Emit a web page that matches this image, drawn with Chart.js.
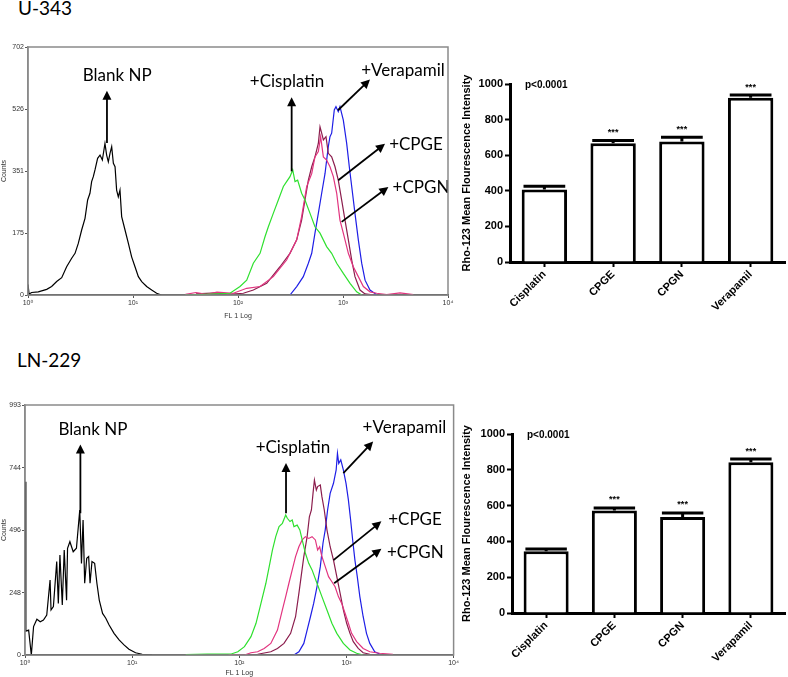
<!DOCTYPE html>
<html>
<head>
<meta charset="utf-8">
<script src="https://cdn.jsdelivr.net/npm/chart.js@4.4.0/dist/chart.umd.min.js"></script>
<style>
  body { margin: 0; background: #fff; }
  #page { position: relative; width: 788px; height: 677px; overflow: hidden; }
  .title { position: absolute; font-family: Lato, sans-serif; font-size: 19px; color: #000; }
  canvas { position: absolute; }
</style>
</head>
<body>
<div id="page">
  <div class="title" style="left:18px; top:-4px">U-343</div>
  <canvas id="histTop" width="460" height="280" style="left:0; top:40px"></canvas>
  <canvas id="barTop" width="328" height="270" style="left:460px; top:50px"></canvas>

  <div class="title" style="left:17px; top:348px">LN-229</div>
  <canvas id="histBottom" width="460" height="287" style="left:0; top:390px"></canvas>
  <canvas id="barBottom" width="328" height="277" style="left:460px; top:400px"></canvas>
</div>

<script>
// histogram curves: [FL1 in decades (log10), counts]
const u343Blank = [[0,30],[0.01,3],[0.035,7],[0.098,9],[0.178,16],[0.225,24],[0.273,38],[0.321,49],[0.368,80],[0.416,104],[0.448,118],[0.479,146],[0.511,184],[0.543,217],[0.568,269],[0.59,288],[0.606,321],[0.622,335],[0.638,354],[0.663,387],[0.686,396],[0.708,382],[0.733,429],[0.749,396],[0.765,377],[0.781,401],[0.797,420],[0.813,373],[0.829,363],[0.844,297],[0.86,278],[0.876,297],[0.892,222],[0.924,184],[0.956,146],[0.987,108],[1.019,80],[1.051,52],[1.083,38],[1.13,24],[1.178,14],[1.225,5],[1.27,0]];
const u343Cis = [[1.5,0],[1.924,5],[2.019,24],[2.083,42],[2.146,90],[2.21,118],[2.257,165],[2.289,193],[2.336,231],[2.384,269],[2.432,307],[2.463,321],[2.495,335],[2.521,354],[2.543,321],[2.568,325],[2.606,288],[2.638,269],[2.686,231],[2.733,193],[2.781,175],[2.844,137],[2.892,118],[2.94,90],[3.003,61],[3.067,33],[3.13,9],[3.178,0]];
const u343Cpge = [[1.6,3],[1.8,6],[1.9,2],[2.051,5],[2.146,14],[2.273,33],[2.4,80],[2.495,118],[2.559,156],[2.606,212],[2.638,269],[2.67,325],[2.702,363],[2.733,391],[2.765,429],[2.781,476],[2.797,458],[2.813,439],[2.838,448],[2.86,401],[2.892,391],[2.924,363],[2.955,325],[2.987,269],[3.019,212],[3.051,156],[3.083,99],[3.114,52],[3.162,14],[3.21,3],[3.3,0]];
const u343Cpgn = [[1.5,2],[1.6,7],[1.7,2],[1.8,8],[1.956,5],[2.083,19],[2.21,24],[2.336,52],[2.463,99],[2.559,156],[2.606,222],[2.654,307],[2.702,344],[2.733,391],[2.765,406],[2.787,448],[2.813,391],[2.844,382],[2.876,363],[2.908,335],[2.94,288],[2.971,212],[3.003,175],[3.051,118],[3.098,80],[3.146,52],[3.194,24],[3.257,9],[3.321,5],[3.416,1],[3.543,6],[3.67,1]];
const u343Vera = [[2.495,0],[2.559,24],[2.622,52],[2.67,90],[2.702,118],[2.733,175],[2.765,231],[2.797,288],[2.829,344],[2.86,420],[2.876,448],[2.892,458],[2.917,524],[2.933,533],[2.955,519],[2.971,533],[3.003,495],[3.035,429],[3.06,363],[3.083,307],[3.114,231],[3.146,156],[3.178,90],[3.21,42],[3.257,14],[3.321,1]];

const ln229Blank = [[0.003,688],[0.008,95],[0.034,99],[0.059,0],[0.08,113],[0.111,142],[0.142,132],[0.172,139],[0.203,159],[0.234,298],[0.243,179],[0.265,192],[0.296,371],[0.311,205],[0.326,397],[0.348,199],[0.366,417],[0.388,218],[0.397,424],[0.419,450],[0.45,410],[0.48,424],[0.511,576],[0.527,364],[0.542,536],[0.557,285],[0.576,384],[0.594,391],[0.607,285],[0.625,371],[0.65,364],[0.671,285],[0.693,218],[0.724,165],[0.754,146],[0.785,119],[0.831,86],[0.878,60],[0.924,40],[0.97,23],[1.032,9],[1.093,3],[1.186,0]];
const ln229Cis = [[1.5,2],[1.7,4],[1.925,4],[1.986,13],[2.048,33],[2.109,73],[2.156,126],[2.202,205],[2.248,285],[2.279,351],[2.309,417],[2.34,470],[2.371,510],[2.402,523],[2.433,556],[2.448,543],[2.473,530],[2.494,536],[2.51,510],[2.54,516],[2.565,497],[2.587,457],[2.617,404],[2.648,364],[2.679,338],[2.725,285],[2.771,232],[2.818,179],[2.864,126],[2.91,86],[2.971,46],[3.033,20],[3.095,7],[3.156,0]];
const ln229Cpge = [[2.171,3],[2.294,13],[2.356,26],[2.417,46],[2.479,86],[2.525,152],[2.556,245],[2.577,311],[2.602,391],[2.633,470],[2.654,549],[2.673,576],[2.688,642],[2.701,695],[2.719,655],[2.731,669],[2.756,675],[2.771,629],[2.793,576],[2.818,497],[2.848,430],[2.879,377],[2.91,311],[2.941,245],[2.971,179],[3.002,126],[3.033,86],[3.064,53],[3.11,26],[3.156,9],[3.218,3]];
const ln229Cpgn = [[1.9,2],[2.048,0],[2.109,9],[2.171,13],[2.232,26],[2.294,46],[2.356,99],[2.402,179],[2.433,232],[2.463,285],[2.494,338],[2.525,391],[2.556,430],[2.587,457],[2.617,470],[2.648,463],[2.679,470],[2.71,457],[2.731,417],[2.75,430],[2.771,391],[2.802,351],[2.833,311],[2.864,291],[2.894,271],[2.925,232],[2.956,205],[2.987,166],[3.018,126],[3.048,86],[3.095,53],[3.156,26],[3.218,13],[3.31,7],[3.433,3]];
const ln229Vera = [[2.51,0],[2.556,13],[2.602,46],[2.633,99],[2.664,152],[2.694,205],[2.725,271],[2.756,351],[2.781,444],[2.802,497],[2.824,576],[2.848,642],[2.879,682],[2.904,735],[2.916,801],[2.928,761],[2.947,775],[2.971,735],[2.996,682],[3.018,616],[3.039,536],[3.058,457],[3.079,377],[3.101,311],[3.125,232],[3.156,152],[3.187,86],[3.218,46],[3.264,13],[3.31,4]];

const u343CountTicks = [0, 175, 351, 526, 702];
const ln229CountTicks = [0, 248, 496, 744, 993];
const decadeTicks = [0, 1, 2, 3, 4];

// bar panels
const groups = ['Cisplatin', 'CPGE', 'CPGN', 'Verapamil'];
const u343Mfi = [407, 667, 677, 923];
const u343Sem = [18, 16, 24, 15];
const ln229Mfi = [345, 572, 537, 842];
const ln229Sem = [12, 15, 22, 18];
const stars = ['', '***', '***', '***'];

const sup = ['⁰', '¹', '²', '³', '⁴'];
const smallFont = { family: 'Liberation Sans, DejaVu Sans, sans-serif', size: 7 };
const boldFont = { family: 'Liberation Sans, Arial, sans-serif', size: 11, weight: 'bold' };

// grey box round the histogram plot area
const frame = {
  id: 'frame',
  afterDraw(chart) {
    const { ctx, chartArea: a } = chart;
    ctx.save();
    ctx.strokeStyle = '#8a8a8a';
    ctx.lineWidth = 1.5;
    ctx.strokeRect(a.left, a.top, a.right - a.left, a.bottom - a.top);
    ctx.restore();
  }
};

// text labels with arrows pointing at the curves
const arrowNotes = {
  id: 'arrowNotes',
  afterDatasetsDraw(chart, args, opts) {
    const { ctx, scales: { x, y } } = chart;
    ctx.save();
    ctx.fillStyle = '#000';
    ctx.strokeStyle = '#000';
    ctx.lineWidth = 1.8;
    ctx.font = '17px Lato';
    ctx.textAlign = 'center';
    ctx.textBaseline = 'middle';
    for (const n of opts.notes) {
      ctx.fillText(n.text, x.getPixelForValue(n.at[0]), y.getPixelForValue(n.at[1]));
      const x0 = x.getPixelForValue(n.from[0]), y0 = y.getPixelForValue(n.from[1]);
      const x1 = x.getPixelForValue(n.to[0]), y1 = y.getPixelForValue(n.to[1]);
      const ang = Math.atan2(y1 - y0, x1 - x0);
      ctx.beginPath();
      ctx.moveTo(x0, y0);
      ctx.lineTo(x1 - 6 * Math.cos(ang), y1 - 6 * Math.sin(ang));
      ctx.stroke();
      ctx.beginPath();
      ctx.moveTo(x1, y1);
      ctx.lineTo(x1 - 9 * Math.cos(ang) + 4.5 * Math.sin(ang), y1 - 9 * Math.sin(ang) - 4.5 * Math.cos(ang));
      ctx.lineTo(x1 - 9 * Math.cos(ang) - 4.5 * Math.sin(ang), y1 - 9 * Math.sin(ang) + 4.5 * Math.cos(ang));
      ctx.closePath();
      ctx.fill();
    }
    ctx.restore();
  }
};

function histogram(id, curves, countTicks, notes, pad, xHeight, yWidth) {
  const colors = ['#000000', '#2fe02f', '#e2347f', '#8b1d4d', '#1e1ee6'];
  return new Chart(document.getElementById(id), {
    type: 'line',
    data: {
      datasets: curves.map((c, i) => ({
        data: c.map(([x, y]) => ({ x, y })),
        borderColor: colors[i],
        borderWidth: 1.2,
        pointRadius: 0,
        tension: 0,
        fill: false
      }))
    },
    options: {
      responsive: false,
      animation: false,
      layout: { padding: pad },
      plugins: { legend: { display: false }, tooltip: { enabled: false }, arrowNotes: { notes } },
      scales: {
        x: {
          type: 'linear', min: 0, max: 4,
          afterBuildTicks: s => { s.ticks = decadeTicks.map(v => ({ value: v })); },
          afterFit: s => { s.height = xHeight; },
          ticks: { font: smallFont, color: '#333', padding: 1, maxRotation: 0, callback: v => '10' + sup[v] },
          grid: { drawOnChartArea: false, tickLength: 3, color: '#555' },
          border: { color: '#333', width: 1.5 },
          title: { display: true, text: 'FL 1 Log', font: smallFont, color: '#333', padding: 0 }
        },
        y: {
          min: 0, max: countTicks[countTicks.length - 1],
          afterBuildTicks: s => { s.ticks = countTicks.map(v => ({ value: v })); },
          afterFit: s => { s.width = yWidth; },
          ticks: { font: smallFont, color: '#333', padding: 1 },
          grid: { drawOnChartArea: false, tickLength: 3, color: '#555' },
          border: { color: '#8a8a8a', width: 1.5 },
          title: { display: true, text: 'Counts', font: smallFont, color: '#333', padding: 0 }
        }
      }
    },
    plugins: [frame, arrowNotes]
  });
}

// upper error bars, significance stars and the p value
const errorBars = {
  id: 'errorBars',
  afterDatasetsDraw(chart, args, opts) {
    const { ctx, chartArea: a } = chart;
    const y = chart.scales.y;
    const vals = chart.data.datasets[0].data;
    ctx.save();
    ctx.strokeStyle = '#000';
    ctx.fillStyle = '#000';
    ctx.lineWidth = 3;
    chart.getDatasetMeta(0).data.forEach((bar, i) => {
      const top = y.getPixelForValue(vals[i] + opts.errors[i]);
      const half = bar.width * 0.46;
      ctx.beginPath();
      ctx.moveTo(bar.x, bar.y);
      ctx.lineTo(bar.x, top);
      ctx.moveTo(bar.x - half, top);
      ctx.lineTo(bar.x + half, top);
      ctx.stroke();
      if (opts.stars[i]) {
        ctx.font = 'bold 9px Liberation Sans';
        ctx.textAlign = 'center';
        ctx.textBaseline = 'middle';
        ctx.fillText(opts.stars[i], bar.x, top - 8);
      }
    });
    ctx.font = 'bold 10px Liberation Sans';
    ctx.textAlign = 'left';
    ctx.textBaseline = 'middle';
    ctx.fillText('p<0.0001', a.left + 15, a.top + 1);
    ctx.restore();
  }
};

function barPanel(id, values, errors, pad, xHeight, yWidth) {
  return new Chart(document.getElementById(id), {
    type: 'bar',
    data: {
      labels: groups,
      datasets: [{
        data: values,
        backgroundColor: '#fff',
        borderColor: '#000',
        borderWidth: 3,
        borderSkipped: 'start',
        barPercentage: 0.66,
        categoryPercentage: 1
      }]
    },
    options: {
      responsive: false,
      animation: false,
      layout: { padding: pad },
      plugins: { legend: { display: false }, tooltip: { enabled: false }, errorBars: { errors, stars } },
      scales: {
        x: {
          afterFit: s => { s.height = xHeight; },
          ticks: { font: boldFont, color: '#000', minRotation: 45, maxRotation: 45, padding: 1 },
          grid: { drawOnChartArea: false, offset: false, tickLength: 5, tickWidth: 2, tickColor: '#000' },
          border: { color: '#000', width: 3 }
        },
        y: {
          min: 0, max: 1000,
          afterFit: s => { s.width = yWidth; },
          ticks: { stepSize: 200, font: boldFont, color: '#000', padding: 2, callback: v => String(v) },
          grid: { drawOnChartArea: false, tickLength: 5, tickWidth: 2, tickColor: '#000' },
          border: { color: '#000', width: 3 },
          title: { display: true, text: 'Rho-123 Mean Flourescence Intensity', font: boldFont, color: '#000', padding: 0 }
        }
      }
    },
    plugins: [errorBars]
  });
}

histogram('histTop', [u343Blank, u343Cis, u343Cpgn, u343Cpge, u343Vera], u343CountTicks, [
  { text: 'Blank NP', at: [0.85, 622], from: [0.752, 430], to: [0.752, 578] },
  { text: '+Cisplatin', at: [2.467, 603], from: [2.511, 350], to: [2.511, 560] },
  { text: '+Verapamil', at: [3.571, 636], from: [2.952, 523], to: [3.257, 610] },
  { text: '+CPGE', at: [3.695, 427], from: [2.955, 325], to: [3.40, 428] },
  { text: '+CPGN', at: [3.743, 305], from: [2.987, 207], to: [3.432, 306] }
], { top: 7, right: 12, left: 0, bottom: 0 }, 25, 28);

histogram('histBottom', [ln229Blank, ln229Cis, ln229Cpgn, ln229Cpge, ln229Vera], ln229CountTicks, [
  { text: 'Blank NP', at: [0.634, 896], from: [0.517, 563], to: [0.517, 836] },
  { text: '+Cisplatin', at: [2.5, 825], from: [2.436, 563], to: [2.436, 763] },
  { text: '+Verapamil', at: [3.541, 904], from: [2.971, 722], to: [3.249, 848] },
  { text: '+CPGE', at: [3.64, 539], from: [2.879, 377], to: [3.326, 531] },
  { text: '+CPGN', at: [3.643, 408], from: [2.885, 285], to: [3.326, 422] }
], { top: 15, right: 2, left: 0, bottom: 0 }, 22, 25);

barPanel('barTop', u343Mfi, u343Sem, { top: 34, right: 3, left: 0, bottom: 0 }, 58, 50);
barPanel('barBottom', ln229Mfi, ln229Sem, { top: 34, right: 3, left: 0, bottom: 0 }, 64, 52);
</script>
</body>
</html>
